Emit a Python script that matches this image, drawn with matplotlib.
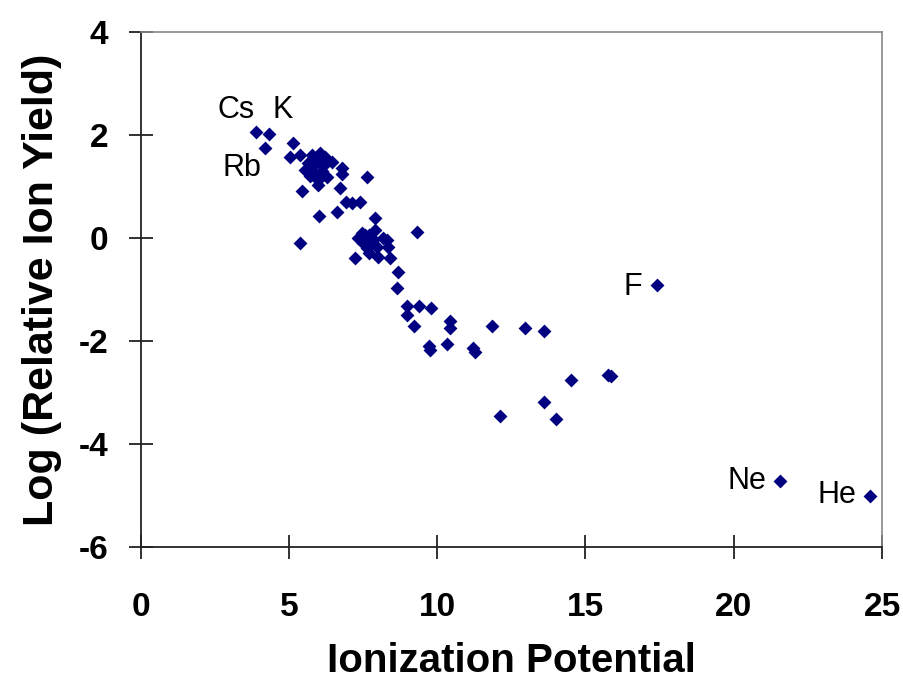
import matplotlib
matplotlib.use("Agg")
import matplotlib.pyplot as plt

plt.rcParams['font.family'] = ['Liberation Sans', 'DejaVu Sans']
plt.rcParams['axes.unicode_minus'] = False

# Ionization potential (eV) and log relative ion yield
ip = [3.89, 4.34, 4.18,
      5.14, 5.04, 5.37, 5.77, 6.05, 6.22, 6.44, 5.54, 5.77, 5.88, 6.10, 6.27, 5.99,
      6.78, 6.78, 5.99, 6.72, 5.43, 5.65, 5.90, 6.15, 5.70,
      7.62, 6.02, 6.94, 7.12, 7.40, 6.61, 7.90, 5.37, 9.32,
      7.34, 7.56, 7.79, 8.18, 7.62, 7.96, 8.35, 7.45, 7.23, 8.01, 8.41, 7.70, 7.85,
      7.50, 7.90, 8.30, 7.70,
      8.69, 8.63, 8.99, 9.40, 9.78, 8.99, 9.22, 10.43, 10.43, 11.84, 12.96, 13.60,
      9.72, 9.75, 10.32, 11.20, 11.26, 12.12, 13.60, 14.00, 14.51, 15.77, 15.85,
      17.42, 21.56, 24.59]
log_yield = [2.06, 2.01, 1.75,
             1.84, 1.58, 1.61, 1.61, 1.64, 1.58, 1.48, 1.32, 1.38, 1.25, 1.29, 1.19, 1.12,
             1.35, 1.25, 1.03, 0.96, 0.91, 1.45, 1.50, 1.40, 1.20,
             1.19, 0.43, 0.70, 0.67, 0.70, 0.51, 0.38, -0.10, 0.12,
             -0.01, 0.06, -0.07, -0.01, -0.20, -0.17, -0.17, 0.09, -0.40, -0.37, -0.40, 0.05, -0.02,
             -0.10, 0.15, -0.05, -0.30,
             -0.66, -0.98, -1.32, -1.32, -1.37, -1.50, -1.72, -1.61, -1.76, -1.71, -1.76, -1.81,
             -2.11, -2.18, -2.07, -2.14, -2.21, -3.47, -3.19, -3.51, -2.76, -2.66, -2.68,
             -0.92, -4.72, -5.01]

labels = ["Cs", "K", "Rb", "F", "Ne", "He"]
label_x = [3.21, 4.80, 3.42, 16.60, 20.45, 23.49]
label_y = [2.48, 2.48, 1.36, -0.96, -4.72, -4.99]

x_ticks = [0, 5, 10, 15, 20, 25]
y_ticks = [-6, -4, -2, 0, 2, 4]

fig = plt.figure(figsize=(9.04, 6.84), dpi=100)
ax = fig.add_axes([0.1556, 0.2007, 0.8201, 0.7525])

ax.scatter(ip, log_yield, marker='D', s=50, color='#000080', linewidths=0, zorder=3)

for t, lx, ly in zip(labels, label_x, label_y):
    ax.text(lx, ly, t, fontsize=22, ha='center', va='center', color='black')

ax.set_xlim(0, 25)
ax.set_ylim(-6, 4)
ax.set_xticks(x_ticks)
ax.set_yticks(y_ticks)

for side in ['left', 'bottom']:
    ax.spines[side].set_color('#222222')
    ax.spines[side].set_linewidth(1.3)
for side in ['top', 'right']:
    ax.spines[side].set_color('#888888')
    ax.spines[side].set_linewidth(1.2)

ax.tick_params(axis='both', direction='inout', length=17, width=1.3, color='#222222',
               labelsize=24)
ax.tick_params(axis='x', pad=24)
ax.tick_params(axis='y', pad=15)
for lab in ax.get_xticklabels() + ax.get_yticklabels():
    lab.set_fontweight('bold')

ax.set_xlabel("Ionization Potential", fontsize=29, fontweight='bold', labelpad=14)
ax.set_ylabel("Log (Relative Ion Yield)", fontsize=31, fontweight='bold', labelpad=12)

fig.savefig("out.png", dpi=100)
